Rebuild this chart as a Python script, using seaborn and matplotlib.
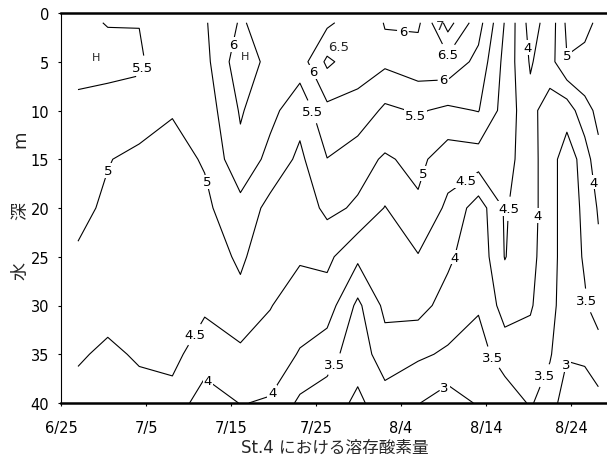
import numpy as np
import pandas as pd
import matplotlib
matplotlib.use("Agg")
import matplotlib.pyplot as plt
import seaborn as sns

# Sampling days, counted from 6/25
sample_day = [2.0, 5.5, 9.2, 13.1, 16.9, 21.1, 24.6, 28.1, 31.3, 34.9,
              38.1, 42.0, 45.5, 49.1, 52.2, 55.2, 57.5, 59.5, 61.6, 63.2]
depth_m = [1, 5, 10, 15, 20, 25, 30, 35, 40]

# Dissolved oxygen (mg/L) per depth, one value per sampling day
do_1m = [5.6, 5.48, 5.49, 5.35, 5.45, 6.05, 5.8, 5.95, 5.9, 6.3,
         5.98, 5.9, 7.2, 6.2, 4.97, 3.8, 4.2, 5.1, 5.15, 4.9]
do_5m = [5.7, 5.65, 5.56, 5.2, 5.35, 6.3, 5.85, 5.75, 6.6, 6.2,
         6.1, 6.3, 6.35, 5.85, 4.85, 3.95, 4.3, 4.98, 4.85, 4.75]
do_10m = [5.35, 5.31, 5.35, 5.03, 5.2, 6.05, 5.65, 5.18, 5.87, 5.84,
          5.4, 5.55, 5.4, 5.52, 4.8, 4.15, 3.75, 3.7, 4.35, 4.6]
do_15m = [5.25, 5.03, 4.84, 4.85, 5.04, 5.87, 5.34, 4.89, 5.49, 5.19,
          4.94, 5.13, 4.73, 4.76, 4.7, 4.2, 3.7, 3.25, 3.7, 4.4]
do_20m = [5.15, 4.9, 4.78, 4.75, 4.9, 5.33, 4.85, 4.7, 5.12, 4.93,
          4.48, 4.92, 4.4, 3.75, 4.55, 4.2, 3.7, 3.25, 3.6, 4.05]
do_25m = [4.93, 4.8, 4.7, 4.68, 4.75, 5.08, 4.7, 4.55, 4.62, 4.1,
          4.3, 4.47, 4.1, 3.65, 4.52, 4.15, 3.7, 3.25, 3.55, 3.9]
do_30m = [4.75, 4.65, 4.62, 4.62, 4.55, 4.86, 4.52, 4.27, 4.25, 3.39,
          4.12, 4.18, 3.8, 3.55, 4.2, 4.05, 3.68, 3.2, 3.45, 3.7]
do_35m = [4.55, 4.42, 4.55, 4.58, 4.34, 4.39, 4.3, 3.96, 3.71, 3.2,
          3.78, 3.58, 3.43, 3.3, 3.75, 3.8, 3.55, 3.05, 3.05, 3.3]
do_40m = [4.35, 4.2, 4.35, 4.4, 3.65, 4.02, 3.95, 3.4, 3.25, 2.9,
          3.26, 3.02, 2.75, 3.05, 3.2, 3.55, 3.25, 2.7, 2.85, 2.85]

levels = [3.0, 3.5, 4.0, 4.5, 5.0, 5.5, 6.0, 6.5, 7.0]
tick_day = [0, 10, 20, 30, 40, 50, 60]
tick_label = ["6/25", "7/5", "7/15", "7/25", "8/4", "8/14", "8/24"]
depth_ticks = [0, 5, 10, 15, 20, 25, 30, 35, 40]

table = pd.DataFrame(
    [do_1m, do_5m, do_10m, do_15m, do_20m, do_25m, do_30m, do_35m, do_40m],
    index=depth_m, columns=sample_day)

sns.set_theme(style="white")
plt.rcParams["font.family"] = ["DejaVu Sans", "Noto Sans CJK JP"]

fig = plt.figure(figsize=(6.07, 4.64), dpi=100)
ax = fig.add_axes([61 / 607, 60 / 464, 545 / 607, 390 / 464])

X, Y = np.meshgrid(table.columns.values.astype(float),
                   table.index.values.astype(float))
cs = ax.contour(X, Y, table.values, levels=levels, colors="black",
                linewidths=0.8)

label_spots = [
    (10.5, 5.9), (4.6, 15.9), (17.3, 17.3), (19.6, 3.1), (29.3, 10.2),
    (29.5, 6.1), (40.2, 2.0), (45.4, 4.4), (45.0, 7.0),
    (41.3, 11.2), (42.8, 16.5), (47.3, 16.8), (53.2, 20.1), (55.2, 3.5),
    (60.0, 5.2), (56.6, 20.8), (63.0, 17.3), (46.7, 25.2), (61.0, 29.6),
    (14.6, 32.4), (17.3, 37.7), (24.6, 38.8), (32.5, 36.2), (45.0, 38.2),
    (51.0, 35.2), (56.9, 37.2), (59.0, 36.0),
]
labels = ax.clabel(cs, manual=label_spots, inline=True, fontsize=9.5,
                   fmt=lambda v: f"{v:g}", inline_spacing=2)
for t in labels:
    t.set_rotation(0)
    t.set_bbox(dict(facecolor="white", edgecolor="none", pad=0.6))

# Labels beside the two small surface cores, kept off their tiny rings
ax.text(32.6, 3.4, f"{levels[7]:g}", fontsize=9.5, ha="center", va="center")
ax.text(44.6, 1.3, f"{levels[8]:g}", fontsize=9.5, ha="center", va="center")

# High-value cores
ax.text(4.1, 4.5, "H", fontsize=8, ha="center", va="center")
ax.text(21.6, 4.4, "H", fontsize=8, ha="center", va="center")

ax.set_xlim(0, 64.1)
ax.set_ylim(40, 0)
ax.set_xticks(tick_day)
ax.set_xticklabels(tick_label)
ax.set_yticks(depth_ticks)
ax.tick_params(axis="both", direction="out", length=2.5, width=0.8,
               colors="black", labelsize=10.5)
ax.tick_params(axis="x", pad=10, bottom=True)
ax.tick_params(axis="y", pad=6, left=True)

for side in ["top", "bottom"]:
    ax.spines[side].set_visible(True)
    ax.spines[side].set_color("black")
    ax.spines[side].set_linewidth(1.8)
ax.spines["left"].set_color("black")
ax.spines["left"].set_linewidth(0.8)
ax.spines["right"].set_visible(False)

# Vertical axis title
for ch, yy in [("水", 0.34), ("深", 0.495), ("m", 0.68)]:
    ax.text(-0.075, yy, ch, transform=ax.transAxes, rotation=90,
            fontsize=13, ha="center", va="center")

fig.text(335 / 607, 1 - 448 / 464, "St.4 における溶存酸素量",
         fontsize=12, ha="center", va="center")

fig.savefig("out.png", dpi=100, facecolor="white")
